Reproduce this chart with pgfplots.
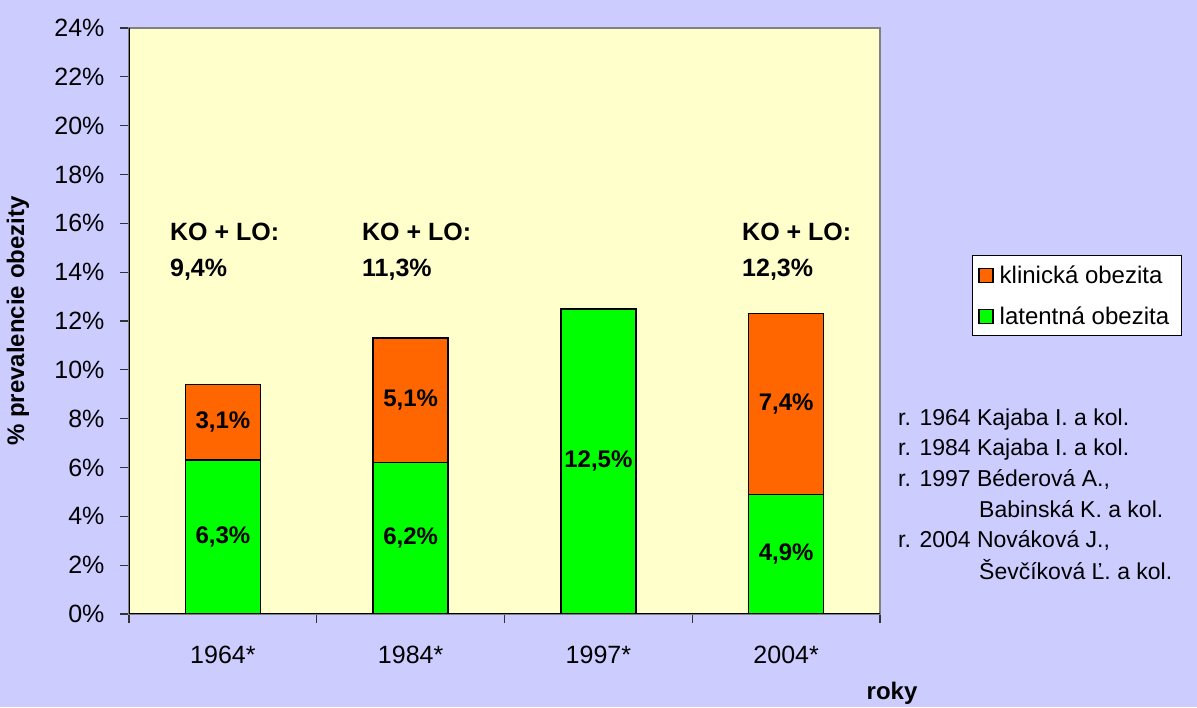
\documentclass[border=0pt]{standalone}
\usepackage{fontspec}
\setmainfont{Liberation Sans}
\usepackage{pgfplots}
\pgfplotsset{compat=1.18}
\definecolor{bgblue}{HTML}{CCCCFF}
\definecolor{plotbg}{HTML}{FFFFCC}
\definecolor{latgreen}{HTML}{00FF00}
\definecolor{klinorange}{HTML}{FF6600}

\begin{document}
\begin{tikzpicture}
\path[use as bounding box, fill=bgblue] (0,0) rectangle (1197pt,707pt);
\begin{axis}[
    at={(129pt,93pt)}, anchor=south west,
    scale only axis, width=751pt, height=586pt,
    ybar stacked, bar width=75pt,
    xmin=-0.5, xmax=3.5, ymin=0, ymax=24,
    axis background/.style={fill=plotbg},
    axis line style={draw=gray, line width=1.2pt},
    xtick={-0.5,0.5,1.5,2.5,3.5},
    xticklabels={},
    extra x ticks={0,1,2,3},
    extra x tick labels={1964*,1984*,1997*,2004*},
    extra x tick style={major tick length=0pt},
    ytick={0,2,...,24},
    yticklabels={0\%,2\%,4\%,6\%,8\%,10\%,12\%,14\%,16\%,18\%,20\%,22\%,24\%},
    tick align=outside, tick pos=left,
    major tick length=9pt,
    tick style={draw=black!80, line width=1.2pt},
    tick label style={font=\fontsize{25}{30}\selectfont},
    xticklabel style={yshift=-29pt},
    yticklabel style={xshift=-12pt},
    ylabel={\bfseries\% prevalencie obezity},
    ylabel style={at={(axis description cs:-0.148,0.5)}, anchor=center, font=\fontsize{24}{28}\selectfont},
    xlabel={\bfseries roky},
    xlabel style={at={(axis description cs:1.016,-0.135)}, anchor=center, font=\fontsize{24}{28}\selectfont},
    legend style={at={(axis description cs:1.1225,0.6126)}, anchor=north west,
        fill=white, draw=black, line width=1pt,
        font=\fontsize{24}{28}\selectfont, row sep=18pt, inner xsep=6pt, inner ysep=8pt,
        nodes={inner xsep=6pt}},
    legend cell align=left,
]
\addlegendimage{legend image code/.code={\draw[fill=klinorange,draw=black,line width=1.2pt] (3pt,-7pt) rectangle (17pt,7pt);}}
\addlegendentry{klinická obezita}
\addlegendimage{legend image code/.code={\draw[fill=latgreen,draw=black,line width=1.2pt] (3pt,-7pt) rectangle (17pt,7pt);}}
\addlegendentry{latentná obezita}
% latentna obezita
\addplot[fill=latgreen, draw=black, line width=1.6pt, forget plot] coordinates {(0,6.3) (1,6.2) (2,12.5) (3,4.9)};
% klinicka obezita
\addplot[fill=klinorange, draw=black, line width=1.6pt, forget plot] coordinates {(0,3.1) (1,5.1) (2,0) (3,7.4)};

\node[font=\bfseries\fontsize{25}{30}\selectfont, anchor=west, inner sep=0pt] at (axis cs:-0.282,15.64) {KO + LO:};
\node[font=\bfseries\fontsize{25}{30}\selectfont, anchor=west, inner sep=0pt] at (axis cs:-0.282,14.12) {9,4\%};
\node[font=\bfseries\fontsize{25}{30}\selectfont, anchor=west, inner sep=0pt] at (axis cs:0.741,15.64) {KO + LO:};
\node[font=\bfseries\fontsize{25}{30}\selectfont, anchor=west, inner sep=0pt] at (axis cs:0.741,14.12) {11,3\%};
\node[font=\bfseries\fontsize{25}{30}\selectfont, anchor=west, inner sep=0pt] at (axis cs:2.765,15.64) {KO + LO:};
\node[font=\bfseries\fontsize{25}{30}\selectfont, anchor=west, inner sep=0pt] at (axis cs:2.765,14.12) {12,3\%};
\end{axis}

% overlay axis for the segment labels (drawn above the bars)
\begin{axis}[
    at={(129pt,93pt)}, anchor=south west,
    scale only axis, width=751pt, height=586pt,
    xmin=-0.5, xmax=3.5, ymin=0, ymax=24,
    axis lines=none, ticks=none,
]
\draw[black, line width=1.4pt] (rel axis cs:0,1) -- (rel axis cs:0,0) -- (rel axis cs:1,0);
\node[font=\bfseries\fontsize{24}{28}\selectfont] at (axis cs:0,3.15) {6,3\%};
\node[font=\bfseries\fontsize{24}{28}\selectfont] at (axis cs:0,7.85) {3,1\%};
\node[font=\bfseries\fontsize{24}{28}\selectfont] at (axis cs:1,3.1) {6,2\%};
\node[font=\bfseries\fontsize{24}{28}\selectfont] at (axis cs:1,8.75) {5,1\%};
\node[font=\bfseries\fontsize{24}{28}\selectfont] at (axis cs:2,6.25) {12,5\%};
\node[font=\bfseries\fontsize{24}{28}\selectfont] at (axis cs:3,2.45) {4,9\%};
\node[font=\bfseries\fontsize{24}{28}\selectfont] at (axis cs:3,8.6) {7,4\%};
\end{axis}

\node[font=\fontsize{23}{28}\selectfont, anchor=base west, inner sep=0pt] at (898pt,281pt) {r. 1964 Kajaba I. a kol.};
\node[font=\fontsize{23}{28}\selectfont, anchor=base west, inner sep=0pt] at (898pt,251pt) {r. 1984 Kajaba I. a kol.};
\node[font=\fontsize{23}{28}\selectfont, anchor=base west, inner sep=0pt] at (898pt,220pt) {r. 1997 Béderová A.,};
\node[font=\fontsize{23}{28}\selectfont, anchor=base west, inner sep=0pt] at (979pt,189pt) {Babinská K. a kol.};
\node[font=\fontsize{23}{28}\selectfont, anchor=base west, inner sep=0pt] at (898pt,159pt) {r. 2004 Nováková J.,};
\node[font=\fontsize{23}{28}\selectfont, anchor=base west, inner sep=0pt] at (979pt,127pt) {Ševčíková Ľ. a kol.};
\end{tikzpicture}
\end{document}
